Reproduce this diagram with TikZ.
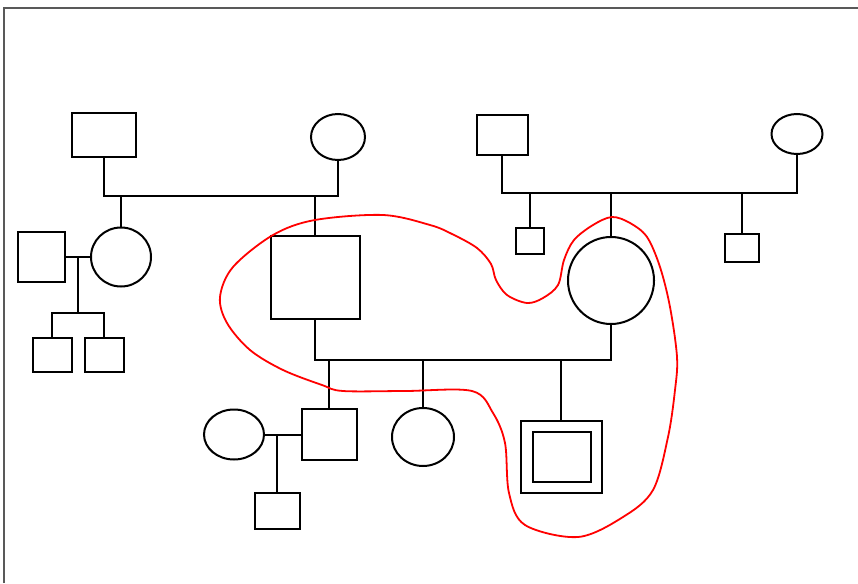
\documentclass[tikz,border=0pt]{standalone}
\usetikzlibrary{shapes.geometric}
\begin{document}
\begin{tikzpicture}[x=1pt,y=-1pt,
  person/.style={draw=black, line width=2pt, inner sep=0pt, outer sep=0pt},
  male/.style={person, rectangle},
  female/.style={person, ellipse},
  link/.style={draw=black, line width=2pt},
  frameline/.style={draw=black!65, line width=1.6pt},
  loop/.style={draw=red, line width=1.8pt}]
\useasboundingbox (0,0) rectangle (858,583);
\fill[white] (0,0) rectangle (858,583);
\draw[frameline] (4,583) -- (4,8) -- (858,8);

% top-left generation
\node[male, minimum width=64pt, minimum height=44pt] (A) at (104,135) {};
\node[female, minimum width=54pt, minimum height=46pt] (B) at (338,137) {};
\node[female, minimum width=60pt, minimum height=59pt] (C) at (121,257) {};
\node[male, minimum width=89pt, minimum height=83pt] (D) at (315,277.5) {};
\node[male, minimum width=47pt, minimum height=50pt] (E) at (41,257) {};
\node[male, minimum width=39pt, minimum height=34pt] (F) at (52,355) {};
\node[male, minimum width=39pt, minimum height=34pt] (G) at (104,355) {};

% top-right generation
\node[male, minimum width=51pt, minimum height=40pt] (H) at (502,135) {};
\node[female, minimum width=51pt, minimum height=40pt] (I) at (797,134) {};
\node[male, minimum width=28pt, minimum height=26pt] (J) at (530,241) {};
\node[female, minimum width=86pt, minimum height=87pt] (K) at (611,280.5) {};
\node[male, minimum width=34pt, minimum height=28pt] (L) at (742,248) {};

% bottom generation
\node[male, minimum width=55pt, minimum height=51pt] (M) at (329,434.5) {};
\node[female, minimum width=62pt, minimum height=58pt] (N) at (423,437) {};
\node[male, minimum width=81pt, minimum height=72pt] (O) at (561,457) {};
\node[male, minimum width=58pt, minimum height=50pt] (Oin) at (562,457) {};
\node[female, minimum width=60pt, minimum height=50pt] (P) at (234,434.5) {};
\node[male, minimum width=45pt, minimum height=36pt] (Q) at (277,511) {};

% coordinates of sibship / marriage lines
\coordinate (ab) at (220,196);
\coordinate (ec) at (78,257);
\coordinate (fg) at (78,313);
\coordinate (hi) at (650,193);
\coordinate (dk) at (460,360);
\coordinate (pm) at (277,434.5);

% connectors
\draw[link] (A.south) |- (ab) -| (B.south);
\draw[link] (C.north) -- (C.north |- ab);
\draw[link] (D.north) -- (D.north |- ab);

\draw[link] (E.east) -- (C.west);
\draw[link] (ec) -- (fg);
\draw[link] (F.north) |- (fg) -| (G.north);

\draw[link] (H.south) |- (hi) -| (I.south);
\draw[link] (J.north) -- (J.north |- hi);
\draw[link] (K.north) -- (K.north |- hi);
\draw[link] (L.north) -- (L.north |- hi);

\draw[link] (D.south) |- (dk) -| (K.south);
\draw[link] (M.north) -- (M.north |- dk);
\draw[link] (N.north) -- (N.north |- dk);
\draw[link] (O.north) -- (O.north |- dk);

\draw[link] (P.east) -- (M.west);
\draw[link] (pm) -- (Q.north);

% red loop
\draw[loop] plot[smooth cycle, tension=0.55] coordinates {
  (233,267) (273,235) (315,220) (383,215) (430,225) (452,234) (477,248)
  (491,264) (496,280) (507,295) (527,303) (543,298) (558,285) (564,260)
  (574,240) (593,225) (612,217) (630,223) (647,237) (660,267) (670,307)
  (677,357) (675,390) (668,437) (653,490) (623,517) (578,537) (525,525)
  (509,493) (505,443) (493,413) (472,391) (405,391) (343,391) (322,385)
  (283,370) (250,350) (227,323) (220,297)};
\end{tikzpicture}
\end{document}
